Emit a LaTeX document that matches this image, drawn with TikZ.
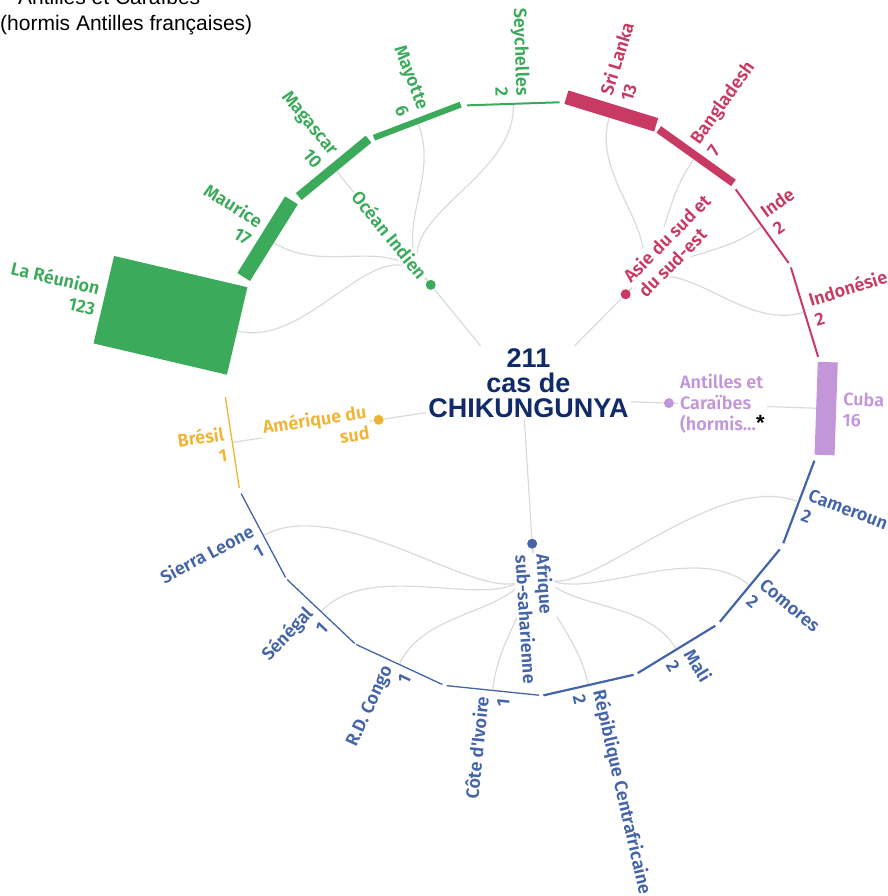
\documentclass[tikz,border=0pt]{standalone}
\usepackage{fontspec}
\usepackage{xcolor}
\usepackage{tikz}
\usetikzlibrary{calc}
\newfontfamily\labfont{Fira Sans SemiBold}
\newfontfamily\titlefont{Liberation Sans}
\definecolor{oigreen}{RGB}{59,170,90}
\definecolor{asred}{RGB}{200,58,100}
\definecolor{afblue}{RGB}{68,100,170}
\definecolor{amyellow}{RGB}{240,180,50}
\definecolor{anlilac}{RGB}{195,150,218}
\definecolor{titlenavy}{RGB}{16,42,106}
\definecolor{linkgrey}{RGB}{218,218,218}
\pgfdeclarelayer{edgelayer}
\pgfdeclarelayer{nodelayer}
\pgfsetlayers{edgelayer,nodelayer,main}
\tikzstyle{link}=[draw=linkgrey,line width=1.2pt]
\tikzstyle{hub}=[shape=circle,inner sep=0pt,minimum size=10pt]
\tikzstyle{gdot}=[hub,fill=oigreen]
\tikzstyle{rdot}=[hub,fill=asred]
\tikzstyle{pdot}=[hub,fill=anlilac]
\tikzstyle{ydot}=[hub,fill=amyellow]
\tikzstyle{bdot}=[hub,fill=afblue]
\tikzstyle{lab}=[inner sep=1pt,font=\labfont\fontsize{18}{21}\selectfont]
\tikzstyle{glab}=[lab,text=oigreen]
\tikzstyle{rlab}=[lab,text=asred]
\tikzstyle{plab}=[lab,text=anlilac]
\tikzstyle{ylab}=[lab,text=amyellow]
\tikzstyle{blab}=[lab,text=afblue]
\tikzstyle{hublab}=[fill=white,inner sep=2pt]
\tikzstyle{title}=[align=center,inner sep=2pt,fill=white,text=titlenavy,font=\titlefont\bfseries\fontsize{27}{25}\selectfont]
\tikzstyle{note}=[inner sep=0pt,font=\titlefont\fontsize{21}{25}\selectfont]
\newcommand{\starmark}{\textcolor{black}{\titlefont\bfseries\fontsize{22}{21}\selectfont *}}

\begin{document}
\begin{tikzpicture}[x=1pt,y=1pt]
	\useasboundingbox (-523,-498) rectangle (364,398);
	\begin{pgfonlayer}{nodelayer}
		% centre and regions
		\coordinate (ctr) at (0,0);
		\node [style=title] (title) at (5.5,15.1) {211\\cas de\\CHIKUNGUNYA};
		\node [style=gdot] (oi) at (129.2:146) {};
		\node [style=rdot] (asie) at (45.3:146) {};
		\node [style=pdot] (antilles) at (-2.0:146) {};
		\node [style=ydot] (amerique) at (188.6:146) {};
		\node [style=bdot] (afrique) at (-86.4:146) {};
		\node [style=glab, style=hublab, anchor=east, rotate=-50.8] (oi-l) at (129.2:155) {Océan Indien};
		\node [style=rlab, style=hublab, anchor=west, align=left, rotate=45.3] (asie-l) at (45.3:155) {Asie du sud et\\du sud-est};
		\node [style=plab, style=hublab, anchor=west, align=left] (antilles-l) at (-2.0:155) {Antilles et\\Caraïbes\\(hormis…\starmark};
		\node [style=ylab, style=hublab, anchor=east, align=right, rotate=8.6] (amerique-l) at (188.6:155) {Amérique du\\sud};
		\node [style=blab, style=hublab, anchor=west, align=left, rotate=-86.4] (afrique-l) at (-86.4:155) {Afrique\\sub-saharienne};

		% country bars
		\fill [asred] (82.0:297) -- (63.8:297) -- ($(63.8:297)+(72.9:14)$) -- ($(82.0:297)+(72.9:14)$) -- cycle;
		\fill [asred] (63.3:297) -- (45.5:297) -- ($(45.5:297)+(54.4:8)$) -- ($(63.3:297)+(54.4:8)$) -- cycle;
		\fill [asred] (44.5:297) -- (26.9:297) -- ($(26.9:297)+(35.7:2)$) -- ($(44.5:297)+(35.7:2)$) -- cycle;
		\fill [asred] (26.0:297) -- (7.9:297) -- ($(7.9:297)+(17.0:2)$) -- ($(26.0:297)+(17.0:2)$) -- cycle;
		\fill [anlilac] (7.0:297) -- (-11.0:297) -- ($(-11.0:297)+(-2.0:20)$) -- ($(7.0:297)+(-2.0:20)$) -- cycle;
		\fill [afblue] (-12.1:297) -- (-29.2:297) -- ($(-29.2:297)+(-20.65:2.2)$) -- ($(-12.1:297)+(-20.65:2.2)$) -- cycle;
		\fill [afblue] (-30.5:297) -- (-48.7:297) -- ($(-48.7:297)+(-39.6:2.2)$) -- ($(-30.5:297)+(-39.6:2.2)$) -- cycle;
		\fill [afblue] (-49.8:297) -- (-67.4:297) -- ($(-67.4:297)+(-58.6:2.2)$) -- ($(-49.8:297)+(-58.6:2.2)$) -- cycle;
		\fill [afblue] (-68.2:297) -- (-86.1:297) -- ($(-86.1:297)+(-77.15:2.2)$) -- ($(-68.2:297)+(-77.15:2.2)$) -- cycle;
		\fill [afblue] (-86.9:297) -- (-104.9:297) -- ($(-104.9:297)+(-95.9:1.3)$) -- ($(-86.9:297)+(-95.9:1.3)$) -- cycle;
		\fill [afblue] (-105.7:297) -- (-124.1:297) -- ($(-124.1:297)+(-114.9:1.3)$) -- ($(-105.7:297)+(-114.9:1.3)$) -- cycle;
		\fill [afblue] (-124.4:297) -- (-142.4:297) -- ($(-142.4:297)+(-133.4:1.3)$) -- ($(-124.4:297)+(-133.4:1.3)$) -- cycle;
		\fill [afblue] (-142.9:297) -- (-161.3:297) -- ($(-161.3:297)+(-152.1:1.3)$) -- ($(-142.9:297)+(-152.1:1.3)$) -- cycle;
		\fill [amyellow] (-162.4:297) -- (-180.2:297) -- ($(-180.2:297)+(-171.3:1.3)$) -- ($(-162.4:297)+(-171.3:1.3)$) -- cycle;
		\fill [oigreen] (175.5:297) -- (158.1:297) -- ($(158.1:297)+(166.8:137)$) -- ($(175.5:297)+(166.8:137)$) -- cycle;
		\fill [oigreen] (156.8:297) -- (139.3:297) -- ($(139.3:297)+(148.05:15)$) -- ($(156.8:297)+(148.05:15)$) -- cycle;
		\fill [oigreen] (138.2:297) -- (120.7:297) -- ($(120.7:297)+(129.45:9)$) -- ($(138.2:297)+(129.45:9)$) -- cycle;
		\fill [oigreen] (119.9:297) -- (101.9:297) -- ($(101.9:297)+(110.9:6)$) -- ($(119.9:297)+(110.9:6)$) -- cycle;
		\fill [oigreen] (100.9:297) -- (82.9:297) -- ($(82.9:297)+(91.9:2)$) -- ($(100.9:297)+(91.9:2)$) -- cycle;

		% middles of the bars
		\coordinate (srilanka) at (72.9:293);
		\coordinate (bangladesh) at (54.4:293);
		\coordinate (inde) at (35.7:293);
		\coordinate (indonesie) at (17.0:293);
		\coordinate (cuba) at (-2.0:293);
		\coordinate (cameroun) at (-20.65:293);
		\coordinate (comores) at (-39.6:293);
		\coordinate (mali) at (-58.6:293);
		\coordinate (rca) at (-77.15:293);
		\coordinate (civoire) at (-95.9:293);
		\coordinate (rdc) at (-114.9:293);
		\coordinate (senegal) at (-133.4:293);
		\coordinate (sierra) at (-152.1:293);
		\coordinate (bresil) at (-171.3:293);
		\coordinate (reunion) at (166.8:293);
		\coordinate (maurice) at (148.05:293);
		\coordinate (magascar) at (129.45:293);
		\coordinate (mayotte) at (110.9:293);
		\coordinate (seychelles) at (91.9:293);

		% country labels
		\node [style=rlab, anchor=west, align=left, rotate=72.9] (srilanka-l) at (72.9:313) {Sri Lanka\\13};
		\node [style=rlab, anchor=west, align=left, rotate=54.4] (bangladesh-l) at (54.4:307) {Bangladesh\\7};
		\node [style=rlab, anchor=west, align=left, rotate=35.7] (inde-l) at (35.7:301) {Inde\\2};
		\node [style=rlab, anchor=west, align=left, rotate=17.0] (indonesie-l) at (17.0:301) {Indonésie\\2};
		\node [style=plab, anchor=west, align=left, rotate=-2.0] (cuba-l) at (-2.0:319) {Cuba\\16};
		\node [style=blab, anchor=west, align=left, rotate=-20.65] (cameroun-l) at (-20.65:301) {Cameroun\\2};
		\node [style=blab, anchor=west, align=left, rotate=-39.6] (comores-l) at (-39.6:301) {Comores\\2};
		\node [style=blab, anchor=west, align=left, rotate=-58.6] (mali-l) at (-58.6:301) {Mali\\2};
		\node [style=blab, anchor=west, align=left, rotate=-77.15] (rca-l) at (-77.15:301) {Répiblique Centrafricaine\\2};
		\node [style=blab, anchor=east, align=right, rotate=84.1] (civoire-l) at (-95.9:300) {Côte d'Ivoire\\1};
		\node [style=blab, anchor=east, align=right, rotate=65.1] (rdc-l) at (-114.9:300) {R.D. Congo\\1};
		\node [style=blab, anchor=east, align=right, rotate=46.6] (senegal-l) at (-133.4:300) {Sénégal\\1};
		\node [style=blab, anchor=east, align=right, rotate=27.9] (sierra-l) at (-152.1:300) {Sierra Leone\\1};
		\node [style=ylab, anchor=east, align=right, rotate=8.7] (bresil-l) at (-171.3:300) {Brésil\\1};
		\node [style=glab, anchor=east, align=right, rotate=-13.2] (reunion-l) at (166.8:436) {La Réunion\\123};
		\node [style=glab, anchor=east, align=right, rotate=-31.95] (maurice-l) at (148.05:314) {Maurice\\17};
		\node [style=glab, anchor=east, align=right, rotate=-50.55] (magascar-l) at (129.45:308) {Magascar\\10};
		\node [style=glab, anchor=east, align=right, rotate=-69.1] (mayotte-l) at (110.9:305) {Mayotte\\6};
		\node [style=glab, anchor=east, align=right, rotate=-88.1] (seychelles-l) at (91.9:301) {Seychelles\\2};
	\end{pgfonlayer}
	\begin{pgfonlayer}{edgelayer}
		\draw [style=link] (ctr) to (oi);
		\draw [style=link] (ctr) to (asie);
		\draw [style=link] (ctr) to (antilles);
		\draw [style=link] (ctr) to (amerique);
		\draw [style=link] (ctr) to (afrique);
		\draw [style=link, out=129.2, in=-13.2] (oi) to (reunion);
		\draw [style=link, out=129.2, in=-31.95] (oi) to (maurice);
		\draw [style=link, out=129.2, in=-50.55] (oi) to (magascar);
		\draw [style=link, out=129.2, in=-69.1] (oi) to (mayotte);
		\draw [style=link, out=129.2, in=-88.1] (oi) to (seychelles);
		\draw [style=link, out=45.3, in=252.9] (asie) to (srilanka);
		\draw [style=link, out=45.3, in=234.4] (asie) to (bangladesh);
		\draw [style=link, out=45.3, in=215.7] (asie) to (inde);
		\draw [style=link, out=45.3, in=197.0] (asie) to (indonesie);
		\draw [style=link] (antilles) to (cuba);
		\draw [style=link] (amerique) to (bresil);
		\draw [style=link, out=-86.4, in=159.35] (afrique) to (cameroun);
		\draw [style=link, out=-86.4, in=140.4] (afrique) to (comores);
		\draw [style=link, out=-86.4, in=121.4] (afrique) to (mali);
		\draw [style=link, out=-86.4, in=102.85] (afrique) to (rca);
		\draw [style=link, out=-86.4, in=84.1] (afrique) to (civoire);
		\draw [style=link, out=-86.4, in=65.1] (afrique) to (rdc);
		\draw [style=link, out=-86.4, in=46.6] (afrique) to (senegal);
		\draw [style=link, out=-86.4, in=27.9] (afrique) to (sierra);
	\end{pgfonlayer}
	% note on the Antilles
	\node [style=note, anchor=base west] (note1) at (-505,393) {Antilles et Caraïbes};
	\node [style=note, anchor=base west] (note2) at (-523,367) {(hormis Antilles françaises)};
\end{tikzpicture}
\end{document}
